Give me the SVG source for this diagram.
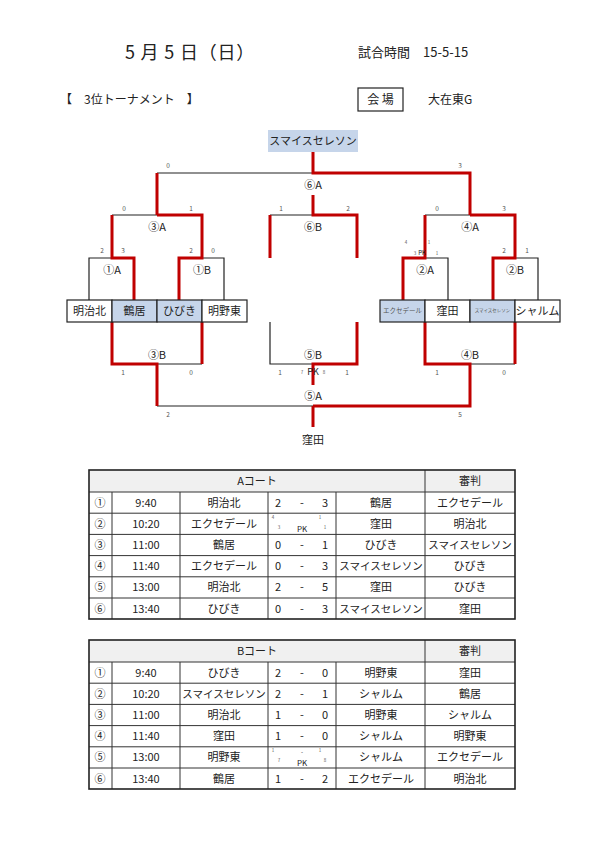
<svg xmlns="http://www.w3.org/2000/svg" width="595" height="841" viewBox="0 0 595 841">
<style>
text{font-family:"Noto Sans CJK JP","Noto Sans",sans-serif;fill:#222}
.t{font-size:11px;text-anchor:middle}
.s{font-size:6.5px;text-anchor:middle;fill:#555}
.xs{font-size:4.5px;text-anchor:middle;fill:#555}
.k{fill:none;stroke:#222;stroke-width:1.2}
.r{fill:none;stroke:#c00000;stroke-width:3}
.cw{fill:#fff;stroke:#222;stroke-width:1.2}
.cb{fill:#c6d5ea;stroke:#222;stroke-width:1.2}
.hd{fill:#f0f0f0}
.tl{stroke:#333;stroke-width:1;fill:none}
.to{stroke:#222;stroke-width:1.6;fill:none}
</style>
<rect width="595" height="841" fill="#fff"/>
<g id="header">
<text x="125" y="59" style="font-size:18px;letter-spacing:0.8px">5 月 5 日（日）</text>
<text x="358" y="57" style="font-size:13px">試合時間　15-5-15</text>
<text x="60" y="104" style="font-size:12px">【　3位トーナメント　】</text>
<rect x="358" y="88" width="45" height="23" fill="none" stroke="#222" stroke-width="1.2"/>
<text x="380.5" y="104" class="t" style="font-size:12px">会 場</text>
<text x="428" y="104" style="font-size:12px">大在東G</text>
</g>
<g id="connectors">
<path class="k" d="M157 173H313M270 215H313M112 215H157M425 215H470M89 300V258H112M202 258H224V300M425 258H448V300M515 258H538V300M157 364H202M470 364H515M270 322V364H313M157 406H313"/>
<path class="r" d="M313 152V173H470V215M157 173V215M313 195V215H357V258M270 215V258M157 215H202V258H179V300M112 215V258H134V300M470 215H515V258H493V300M425 215V258H403V300M112 322V364H157V406M202 322V364M425 322V364H470V406H313M515 322V364M357 322V364H313V385M313 406V427"/>
</g>
<g id="champion"><rect x="268" y="130" width="90" height="22" fill="#c6d5ea"/><text x="313" y="145" class="t">スマイスセレソン</text></g>
<g id="m6A"><text x="313" y="189" class="t">⑥A</text></g>
<g id="m6B"><text x="313" y="231" class="t">⑥B</text></g>
<g id="m3A"><text x="157" y="231" class="t">③A</text></g>
<g id="m4A"><text x="470" y="231" class="t">④A</text></g>
<g id="m1A"><text x="112" y="274" class="t">①A</text></g>
<g id="m1B"><text x="202" y="274" class="t">①B</text></g>
<g id="m2A"><text x="425" y="274" class="t">②A</text></g>
<g id="m2B"><text x="515" y="274" class="t">②B</text></g>
<g id="m3B"><text x="157" y="359" class="t">③B</text></g>
<g id="m4B"><text x="470" y="359" class="t">④B</text></g>
<g id="m5B"><text x="313" y="359" class="t">⑤B</text></g>
<g id="m5A"><text x="313" y="400" class="t">⑤A</text></g>
<g id="result"><text x="313" y="444" class="t">窪田</text></g>
<g id="teams">
<rect x="67" y="300" width="45" height="22" class="cw"/><text x="89.5" y="315" class="t">明治北</text>
<rect x="112" y="300" width="45" height="22" class="cb"/><text x="134.5" y="315" class="t">鶴居</text>
<rect x="157" y="300" width="45" height="22" class="cb"/><text x="179.5" y="315" class="t">ひびき</text>
<rect x="202" y="300" width="45" height="22" class="cw"/><text x="224.5" y="315" class="t">明野東</text>
<rect x="380" y="300" width="45" height="22" class="cb"/><text x="402.5" y="313" class="s">エクセデール</text>
<rect x="425" y="300" width="45" height="22" class="cw"/><text x="447.5" y="315" class="t">窪田</text>
<rect x="470" y="300" width="45" height="22" class="cb"/><text x="492.5" y="312" class="xs">スマイスセレソン</text>
<rect x="515" y="300" width="45" height="22" class="cw"/><text x="537.5" y="315" class="t">シャルム</text>
</g>
<g id="scores">
<text x="168" y="168" class="s">0</text><text x="460" y="168" class="s">3</text>
<text x="124" y="211" class="s">0</text><text x="191" y="211" class="s">1</text>
<text x="281" y="211" class="s">1</text><text x="348" y="211" class="s">2</text>
<text x="437" y="211" class="s">0</text><text x="504" y="211" class="s">3</text>
<text x="102" y="253" class="s">2</text><text x="123" y="253" class="s">3</text>
<text x="191" y="253" class="s">2</text><text x="213" y="253" class="s">0</text>
<text x="406" y="244" class="xs">4</text><text x="429" y="244" class="xs">1</text>
<text x="415" y="255" class="xs">3</text><text x="422" y="255" class="s" style="font-size:6px;fill:#222">PK</text><text x="437" y="255" class="xs">1</text>
<text x="504" y="253" class="s">2</text><text x="527" y="253" class="s">1</text>
<text x="123" y="375" class="s">1</text><text x="191" y="375" class="s">0</text>
<text x="280" y="375" class="s">1</text><text x="302" y="374" class="xs">7</text><text x="313" y="375" class="t" style="font-size:9px">PK</text><text x="324" y="374" class="xs">8</text><text x="347" y="375" class="s">1</text>
<text x="437" y="375" class="s">1</text><text x="504" y="375" class="s">0</text>
<text x="168" y="417" class="s">2</text><text x="460" y="417" class="s">5</text>
</g>
<g id="tableA">
<rect x="89" y="470" width="426" height="22" class="hd"/>
<path class="tl" d="M425 470V619M89 492H515M89 513.2H515M89 534.4H515M89 555.6H515M89 576.8H515M89 598H515M112 492V619M180 492V619M268 492V619M336 492V619"/>
<rect x="89" y="470" width="426" height="149" class="to"/>
<text x="257" y="485" class="t">Aコート</text><text x="470" y="485" class="t">審判</text>
<g class="t">
<text x="100" y="506.5">①</text><text x="146" y="506.5">9:40</text><text x="224" y="506.5">明治北</text><text x="278" y="506.5">2</text><text x="302" y="506.5">-</text><text x="325" y="506.5">3</text><text x="381" y="506.5">鶴居</text><text x="470" y="506.5">エクセデール</text>
<text x="100" y="527.7">②</text><text x="146" y="527.7">10:20</text><text x="224" y="527.7">エクセデール</text><text x="381" y="527.7">窪田</text><text x="470" y="527.7">明治北</text>
<text x="100" y="548.9">③</text><text x="146" y="548.9">11:00</text><text x="224" y="548.9">鶴居</text><text x="278" y="548.9">0</text><text x="302" y="548.9">-</text><text x="325" y="548.9">1</text><text x="381" y="548.9">ひびき</text><text x="470" y="548.9" style="font-size:10.5px">スマイスセレソン</text>
<text x="100" y="570.1">④</text><text x="146" y="570.1">11:40</text><text x="224" y="570.1">エクセデール</text><text x="278" y="570.1">0</text><text x="302" y="570.1">-</text><text x="325" y="570.1">3</text><text x="381" y="570.1" style="font-size:10.5px">スマイスセレソン</text><text x="470" y="570.1">ひびき</text>
<text x="100" y="591.3">⑤</text><text x="146" y="591.3">13:00</text><text x="224" y="591.3">明治北</text><text x="278" y="591.3">2</text><text x="302" y="591.3">-</text><text x="325" y="591.3">5</text><text x="381" y="591.3">窪田</text><text x="470" y="591.3">ひびき</text>
<text x="100" y="612.5">⑥</text><text x="146" y="612.5">13:40</text><text x="224" y="612.5">ひびき</text><text x="278" y="612.5">0</text><text x="302" y="612.5">-</text><text x="325" y="612.5">3</text><text x="381" y="612.5" style="font-size:10.5px">スマイスセレソン</text><text x="470" y="612.5">窪田</text>
</g>
<text x="273" y="519" class="xs">4</text><text x="279" y="529" class="xs">3</text><text x="320" y="519" class="xs">1</text><text x="325" y="529" class="xs">1</text><text x="302" y="532" class="t" style="font-size:8px">PK</text>
</g>
<g id="tableB">
<rect x="89" y="640" width="426" height="22" class="hd"/>
<path class="tl" d="M425 640V789M89 662H515M89 683.2H515M89 704.4H515M89 725.6H515M89 746.8H515M89 768H515M112 662V789M180 662V789M268 662V789M336 662V789"/>
<rect x="89" y="640" width="426" height="149" class="to"/>
<text x="257" y="655" class="t">Bコート</text><text x="470" y="655" class="t">審判</text>
<g class="t">
<text x="100" y="676.5">①</text><text x="146" y="676.5">9:40</text><text x="224" y="676.5">ひびき</text><text x="278" y="676.5">2</text><text x="302" y="676.5">-</text><text x="325" y="676.5">0</text><text x="381" y="676.5">明野東</text><text x="470" y="676.5">窪田</text>
<text x="100" y="697.7">②</text><text x="146" y="697.7">10:20</text><text x="224" y="697.7" style="font-size:10.5px">スマイスセレソン</text><text x="278" y="697.7">2</text><text x="302" y="697.7">-</text><text x="325" y="697.7">1</text><text x="381" y="697.7">シャルム</text><text x="470" y="697.7">鶴居</text>
<text x="100" y="718.9">③</text><text x="146" y="718.9">11:00</text><text x="224" y="718.9">明治北</text><text x="278" y="718.9">1</text><text x="302" y="718.9">-</text><text x="325" y="718.9">0</text><text x="381" y="718.9">明野東</text><text x="470" y="718.9">シャルム</text>
<text x="100" y="740.1">④</text><text x="146" y="740.1">11:40</text><text x="224" y="740.1">窪田</text><text x="278" y="740.1">1</text><text x="302" y="740.1">-</text><text x="325" y="740.1">0</text><text x="381" y="740.1">シャルム</text><text x="470" y="740.1">明野東</text>
<text x="100" y="761.3">⑤</text><text x="146" y="761.3">13:00</text><text x="224" y="761.3">明野東</text><text x="381" y="761.3">シャルム</text><text x="470" y="761.3">エクセデール</text>
<text x="100" y="782.5">⑥</text><text x="146" y="782.5">13:40</text><text x="224" y="782.5">鶴居</text><text x="278" y="782.5">1</text><text x="302" y="782.5">-</text><text x="325" y="782.5">2</text><text x="381" y="782.5">エクセデール</text><text x="470" y="782.5">明治北</text>
</g>
<text x="273" y="752" class="xs">1</text><text x="279" y="762" class="xs">7</text><text x="320" y="752" class="xs">1</text><text x="325" y="762" class="xs">8</text><text x="302" y="754" class="t" style="font-size:6px">-</text><text x="302" y="766" class="t" style="font-size:8px">PK</text>
</g>
</svg>
